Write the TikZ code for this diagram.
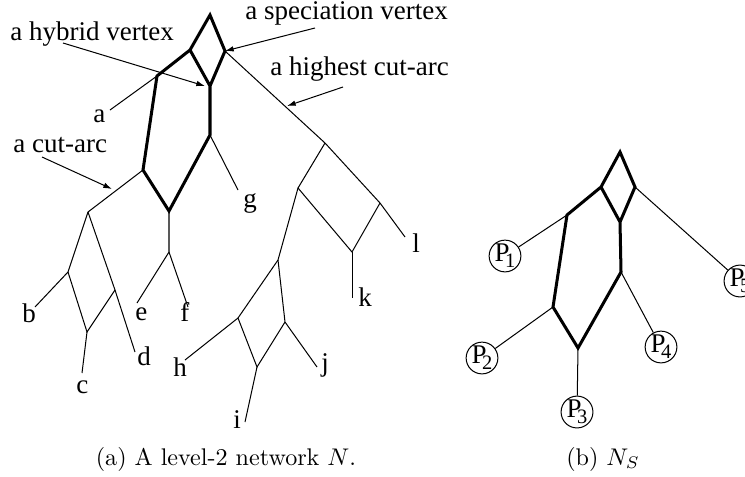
\documentclass[tikz,border=0pt]{standalone}
\usepackage{fontspec}
\newfontfamily\tms{Liberation Serif}
\usetikzlibrary{arrows.meta}
\begin{document}
\begin{tikzpicture}[x=0.415pt,y=-0.415pt,
  thin edge/.style={line width=0.42pt},
  thick edge/.style={line width=1.25pt, line join=miter},
  lbl/.style={font=\tms\fontsize{11.2}{13}\selectfont, inner sep=0pt, anchor=base west},
  pnode/.style={draw, circle, line width=0.42pt, inner sep=0pt, minimum size=12.6pt},
  callout/.style={line width=0.42pt, -{Latex[length=3.6pt,width=2.3pt]}},
  captext/.style={font=\fontsize{10}{12}\selectfont, inner sep=0pt, anchor=base}]
\useasboundingbox (0,0) rectangle (745,476);

% ---------- left network N ----------
\coordinate (r) at (210,15);
\coordinate (sl) at (190,50);
\coordinate (sr) at (225,51);
\coordinate (h1) at (210,86);
\coordinate (va) at (157,76);
\coordinate (v2) at (210,135);
\coordinate (v3) at (143,170);
\coordinate (h2) at (169,211);
\coordinate (v4) at (169,252);
\coordinate (la) at (110,110);
\coordinate (lg) at (238,190);
\coordinate (le) at (137,303);
\coordinate (lf) at (188,307);
% cut-arc subtree
\coordinate (c1) at (88,212);
\coordinate (b1) at (68,272);
\coordinate (d1) at (115,290);
\coordinate (c2) at (87,332);
\coordinate (lb) at (35,307);
\coordinate (ld) at (135,352);
\coordinate (lc) at (82,373);
% highest cut-arc subtree
\coordinate (u1) at (325,143);
\coordinate (u2) at (380,203);
\coordinate (u3) at (298,188);
\coordinate (k1) at (352,252);
\coordinate (ll) at (405,237);
\coordinate (lk) at (352,298);
\coordinate (w1) at (278,260);
\coordinate (w2) at (238,318);
\coordinate (w3) at (285,322);
\coordinate (w4) at (257,367);
\coordinate (lh) at (185,360);
\coordinate (lj) at (317,367);
\coordinate (li) at (245,422);

\draw[thick edge] (sl) -- (r) -- (sr) -- (h1) -- (sl) -- (va) -- (v3) -- (h2) -- (v2) -- (h1);
\draw[thin edge] (va) -- (la);
\draw[thin edge] (v2) -- (lg);
\draw[thin edge] (h2) -- (v4) -- (le);
\draw[thin edge] (v4) -- (lf);
\draw[thin edge] (v3) -- (c1) -- (b1) -- (lb);
\draw[thin edge] (c1) -- (d1) -- (ld);
\draw[thin edge] (b1) -- (c2) -- (d1);
\draw[thin edge] (c2) -- (lc);
\draw[thin edge] (sr) -- (u1) -- (u2) -- (ll);
\draw[thin edge] (u1) -- (u3) -- (k1) -- (u2);
\draw[thin edge] (k1) -- (lk);
\draw[thin edge] (u3) -- (w1) -- (w2) -- (lh);
\draw[thin edge] (w1) -- (w3) -- (lj);
\draw[thin edge] (w2) -- (w4) -- (w3);
\draw[thin edge] (w4) -- (li);

% leaf labels
\node[lbl] (ta) at (93,122) {a};
\node[lbl] (tb) at (22,322) {b};
\node[lbl] (tc) at (76,393) {c};
\node[lbl] (td) at (137,365) {d};
\node[lbl] (te) at (135,320) {e};
\node[lbl] (tf) at (180,321) {f};
\node[lbl] (tg) at (243,207) {g};
\node[lbl] (th) at (173,376) {h};
\node[lbl] (ti) at (233,428) {i};
\node[lbl] (tj) at (321,371) {j};
\node[lbl] (tk) at (358,306) {k};
\node[lbl] (tl) at (412,252) {l};

% callouts
\node[lbl] (tspec) at (245,19) {a speciation vertex};
\node[lbl] (thyb) at (10,40) {a hybrid vertex};
\node[lbl] (thigh) at (270,75) {a highest cut-arc};
\node[lbl] (tcut) at (13,152) {a cut-arc};
\coordinate (aspec) at (315,28);
\coordinate (ahyb) at (63,43);
\coordinate (ahigh) at (343,87);
\coordinate (acut) at (42,157);
\coordinate (ehyb) at (205,86);
\coordinate (ehigh) at (287,106);
\coordinate (ecut) at (112,189);
\draw[callout] (aspec) -- (sr);
\draw[callout] (ahyb) -- (ehyb);
\draw[callout] (ahigh) -- (ehigh);
\draw[callout] (acut) -- (ecut);

% ---------- right network N_S ----------
\coordinate (rt) at (620,152);
\coordinate (L) at (601,187);
\coordinate (R) at (635,187);
\coordinate (H) at (620,222);
\coordinate (A) at (567,215);
\coordinate (H2) at (621,272);
\coordinate (A2) at (553,307);
\coordinate (B) at (578,348);
\draw[thick edge] (L) -- (rt) -- (R) -- (H) -- (L) -- (A) -- (A2) -- (B) -- (H2) -- (H);

\newcommand{\pl}[1]{{\tms\fontsize{11.2}{12}\selectfont P\kern-1.8pt\raisebox{-2.6pt}{\fontsize{8.5}{9}\selectfont #1}}}
\node[pnode] (P1) at (505,256) {\pl{1}};
\node[pnode] (P2) at (482,358) {\pl{2}};
\node[pnode] (P3) at (577,412) {\pl{3}};
\node[pnode] (P4) at (661,347) {\pl{4}};
\node[pnode] (P5) at (740,281) {\pl{5}};
\draw[thin edge] (A) -- (P1);
\draw[thin edge] (A2) -- (P2);
\draw[thin edge] (B) -- (P3);
\draw[thin edge] (H2) -- (P4);
\draw[thin edge] (R) -- (P5);

% captions
\node[captext] (capa) at (226,465) {(a) A level-2 network $N$.};
\node[captext] (capb) at (603,465) {(b) $N_S$};
\end{tikzpicture}
\end{document}
